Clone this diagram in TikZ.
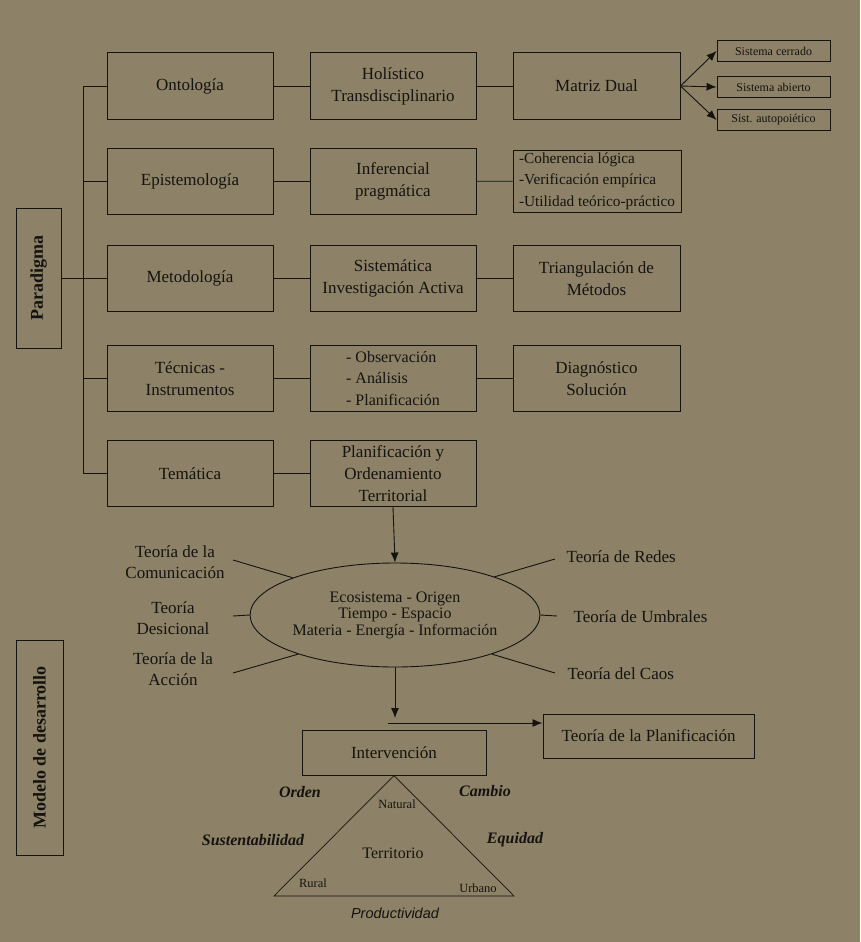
\documentclass[tikz,border=0pt]{standalone}
\usepackage{fontspec}
\setmainfont{Liberation Serif}
\newfontfamily\sansfam{Liberation Sans}
\usetikzlibrary{shapes.geometric,arrows.meta}
\definecolor{paper}{HTML}{8D8268}
\definecolor{ink}{HTML}{15130F}

\tikzset{
  every node/.style={text=ink},
  box/.style={draw=ink, line width=1pt, minimum width=166pt, minimum height=66pt,
    inner sep=0pt, align=center, font=\fontsize{17}{22}\selectfont},
  listbox/.style={box, align=left, font=\fontsize{16}{21.5}\selectfont},
  smallbox/.style={draw=ink, line width=0.9pt, minimum width=113pt, minimum height=21pt,
    inner sep=0pt, font=\fontsize{12}{14}\selectfont},
  sidebox/.style={draw=ink, line width=1pt, rotate=90, inner sep=0pt,
    font=\fontsize{18}{20}\selectfont\bfseries},
  link/.style={draw=ink, line width=0.9pt},
  arr/.style={link, -{Latex[length=10pt,width=8pt]}},
  lbl/.style={align=center, font=\fontsize{17}{21}\selectfont},
  axis/.style={font=\fontsize{16}{18}\selectfont\bfseries\itshape},
  corner/.style={font=\fontsize{12.5}{14}\selectfont}
}

\begin{document}
\begin{tikzpicture}[x=1pt,y=-1pt]
  % page
  \fill[paper] (0,0) rectangle (860,942);
  \useasboundingbox (0,0) rectangle (860,942);

  % ---- Paradigma block ----
  \node[sidebox, minimum width=140pt, minimum height=45pt] (para) at (38.5,278) {Paradigma};
  \coordinate (spine) at (83,0);

  % row 1
  \node[box] (onto) at (190,86) {Ontología};
  \node[box] (holi) at (393,86) {Holístico\\Transdisciplinario};
  \node[box, minimum width=167pt] (matriz) at (596.5,86) {Matriz Dual};
  % row 2
  \node[box] (epis) at (190,181.5) {Epistemología};
  \node[box] (infe) at (393,181.5) {Inferencial\\pragmática};
  \node[listbox, minimum width=168pt, minimum height=62pt, font=\fontsize{15.3}{21.5}\selectfont] (crit) at (597,181)
    {-Coherencia lógica\\-Verificación empírica\\-Utilidad teórico-práctico};
  % row 3
  \node[box] (meto) at (190,278.5) {Metodología};
  \node[box] (sist) at (393,278.5) {Sistemática\\Investigación Activa};
  \node[box, minimum width=167pt] (triang) at (596.5,278.5) {Triangulación de\\Métodos};
  % row 4
  \node[box] (tecn) at (190,378.5) {Técnicas -\\Instrumentos};
  \node[listbox] (obs) at (393,378.5) {- Observación\\- Análisis\\- Planificación};
  \node[box, minimum width=167pt] (diag) at (596.5,378.5) {Diagnóstico\\Solución};
  % row 5
  \node[box] (tema) at (190,473.5) {Temática};
  \node[box] (plan) at (393,473.5) {Planificación y\\Ordenamiento\\Territorial};

  % systems of the dual matrix
  \node[smallbox] (cerr) at (773.5,51) {Sistema cerrado};
  \node[smallbox] (abie) at (773.5,87) {Sistema abierto};
  \node[smallbox] (auto) at (773.5,120) {Sist. autopoiético};

  % spine and branches
  \draw[link] (onto.west) -- (onto.west -| spine) -- (tema.west -| spine) -- (tema.west);
  \foreach \n in {epis,meto,tecn} \draw[link] (\n.west -| spine) -- (\n.west);
  \draw[link] (para.south) -- (para.south -| spine);

  % row links
  \draw[link] (onto) -- (holi);  \draw[link] (holi) -- (matriz);
  \draw[link] (epis) -- (infe);  \draw[link] (infe) -- (crit);
  \draw[link] (meto) -- (sist);  \draw[link] (sist) -- (triang);
  \draw[link] (tecn) -- (obs);   \draw[link] (obs) -- (diag);
  \draw[link] (tema) -- (plan);
  \foreach \n in {cerr,abie,auto} \draw[arr] (matriz.east) -- (\n.west);

  % ---- central ellipse and theories ----
  \node[draw=ink, line width=0.9pt, ellipse, minimum width=251pt, minimum height=104pt,
        inner sep=0pt, align=center, font=\fontsize{16}{16.5}\selectfont] (eco) at (395,615)
    {Ecosistema - Origen\\Tiempo - Espacio\\Materia - Energía - Información};
  \draw[arr] (plan.south) -- (eco.north);

  \coordinate (l1) at (233,560);  \coordinate (l2) at (233,616);  \coordinate (l3) at (233,673);
  \coordinate (r1) at (555,559);  \coordinate (r2) at (557,616);  \coordinate (r3) at (555,673);
  \draw[link] (eco.160) -- (l1);
  \draw[link] (eco.180) -- (l2);
  \draw[link] (eco.202) -- (l3);
  \draw[link] (eco.21) -- (r1);
  \draw[link] (eco.0) -- (r2);
  \draw[link] (eco.-22) -- (r3);

  \node[lbl] (tcom) at (175,562) {Teoría de la\\Comunicación};
  \node[lbl] (tdes) at (173,618) {Teoría\\Desicional};
  \node[lbl] (tacc) at (173,669) {Teoría de la\\Acción};
  \node[lbl, anchor=west] (tred) at (563,557) {Teoría de Redes};
  \node[lbl, anchor=west] (tumb) at (570,617) {Teoría de Umbrales};
  \node[lbl, anchor=west] (tcao) at (564,674) {Teoría del Caos};

  % ---- intervention and planning theory ----
  \node[draw=ink, line width=1pt, minimum width=184pt, minimum height=45pt, inner sep=0pt,
        font=\fontsize{17}{20}\selectfont] (interv) at (394,752.5) {Intervención};
  \node[draw=ink, line width=1pt, minimum width=211pt, minimum height=44pt, inner sep=0pt,
        font=\fontsize{17}{20}\selectfont] (tplan) at (648.5,736) {Teoría de la Planificación};

  \coordinate (drop) at (392,718);
  \coordinate (hstart) at (388,723);
  \draw[arr] (eco.south) -- (eco.south |- drop);
  \draw[arr] (hstart) -- (hstart -| tplan.west);

  % ---- territory triangle ----
  \coordinate (rl) at (274,896);
  \coordinate (ur) at (514,896);
  \draw[draw=ink, line width=0.7pt] (interv.south) -- (rl) -- (ur) -- cycle;

  \node[axis] (orden) at (300,792) {Orden};
  \node[axis] (cambio) at (485,791) {Cambio};
  \node[axis] (sust) at (253,840) {Sustentabilidad};
  \node[axis] (equi) at (515,840) {Equidad};
  \node[font=\fontsize{14.5}{16}\sansfam\itshape] (prod) at (395,913) {Productividad};

  \node[corner] (natu) at (397,804) {Natural};
  \node[font=\fontsize{16}{18}\selectfont] (terr) at (393,853) {Territorio};
  \node[corner] (rura) at (313,883) {Rural};
  \node[corner] (urba) at (478,888) {Urbano};

  % ---- Modelo de desarrollo block ----
  \node[sidebox, minimum width=215pt, minimum height=47pt] (modelo) at (39.5,747.5) {Modelo de desarrollo};
\end{tikzpicture}
\end{document}
